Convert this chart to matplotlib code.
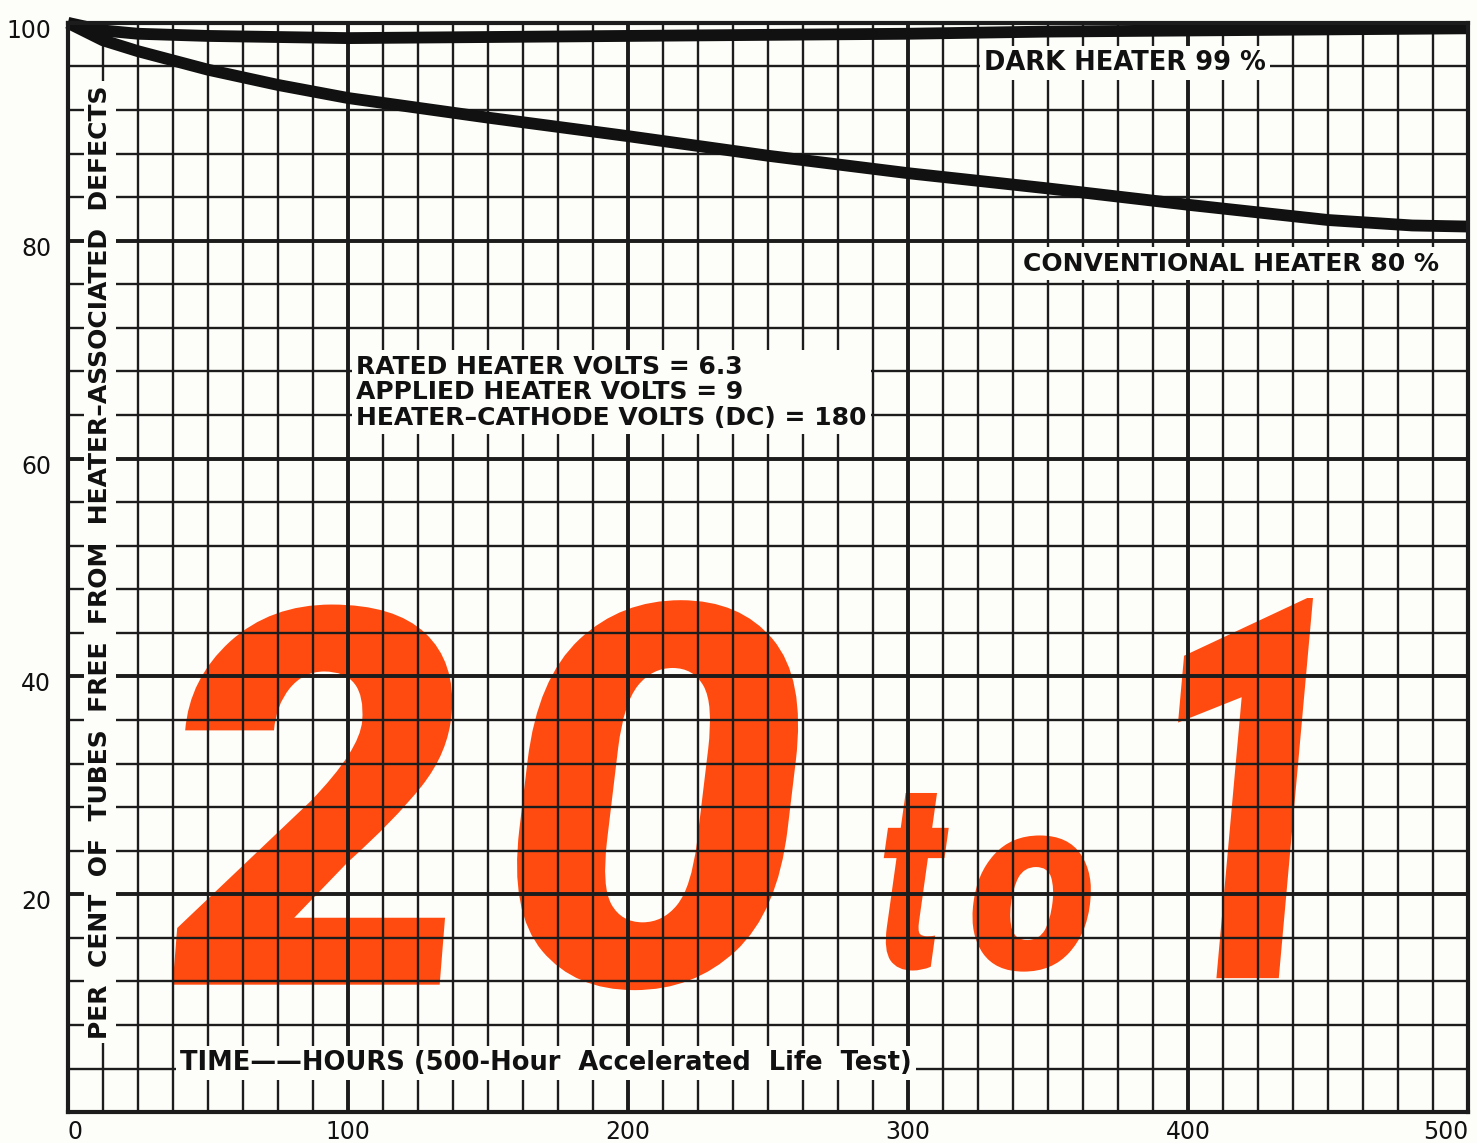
import matplotlib
matplotlib.use('Agg')
import matplotlib.pyplot as plt
import numpy as np
from matplotlib.textpath import TextPath
from matplotlib.patches import PathPatch
from matplotlib.font_manager import FontProperties
from matplotlib.transforms import Affine2D, ScaledTranslation

# curves (hours, per cent)
hours_dark = [0, 12.5, 25, 50, 100, 150, 200, 250, 300, 350, 400, 450, 500]
dark_heater = [100, 99.3, 99.0, 98.8, 98.6, 98.7, 98.8, 98.9, 99.0, 99.2, 99.3, 99.4, 99.5]

hours_conv = [0, 12.5, 25, 50, 75, 100, 125, 150, 200, 250, 300, 350, 400, 450, 480, 500]
conv_heater = [100, 98.4, 97.4, 95.7, 94.3, 93.1, 92.2, 91.3, 89.6, 87.8, 86.2, 84.8, 83.3, 81.9, 81.4, 81.3]

x_ticks = [0, 100, 200, 300, 400, 500]
y_ticks = [20, 40, 60, 80, 100]

ink = '#1c1c1c'
orange = '#ff4b10'
paper = '#fdfdf9'

fig = plt.figure(figsize=(14.77, 11.43), dpi=100, facecolor=paper)
ax = fig.add_axes([0.046, 0.027, 0.948, 0.953])
ax.set_facecolor(paper)
ax.set_xlim(0, 500)
ax.set_ylim(0, 100)

# pixels per hour / per percent, used to keep the italic slant right
px_x = 0.948 * 1477 / 500
px_y = 0.953 * 1143 / 100

# big "20 to 1" glyphs, each fitted to the box it fills on the chart
def glyph(ch, x0, x1, y0, y1, slant):
    fp = FontProperties(family=['Roboto', 'Open Sans', 'DejaVu Sans'], weight='black')
    p = TextPath((0, 0), ch, size=1, prop=fp)
    e = p.get_extents()
    w = (x1 - x0) * px_x
    h = (y1 - y0) * px_y
    t = (Affine2D().translate(-e.x0, -e.y0)
         .scale((w - slant * h) / e.width, h / e.height)
         .skew(np.arctan(slant), 0)
         .scale(1 / px_x, 1 / px_y)
         .translate(x0, y0))
    ax.add_patch(PathPatch(p.transformed(t), facecolor=orange, edgecolor='none', zorder=1))

glyph('2', 34.6, 143.6, 11.7, 46.6, 0.08)
glyph('0', 154.3, 266.8, 11.2, 47.0, 0.12)
glyph('t', 285.7, 316.8, 13.0, 29.3, 0.14)
glyph('o', 320.4, 367.9, 12.9, 25.4, 0.12)
glyph('1', 388.2, 444.6, 12.3, 47.2, 0.09)

# graph paper grid
minor_x = np.arange(0, 501, 12.5)
minor_y = np.arange(0, 101, 4)
ax.vlines(minor_x, 0, 100, color=ink, lw=1.7, zorder=2)
ax.hlines(minor_y, 0, 500, color=ink, lw=1.7, zorder=2)
ax.vlines(x_ticks, 0, 100, color=ink, lw=2.8, zorder=2)
ax.hlines(y_ticks, 0, 500, color=ink, lw=2.8, zorder=2)

ax.plot(hours_dark, dark_heater, color='#111111', lw=8.5, solid_capstyle='butt', zorder=3, clip_on=False)
ax.plot(hours_conv, conv_heater, color='#111111', lw=8.5, solid_capstyle='butt', zorder=3, clip_on=False)

box = dict(facecolor=paper, edgecolor='none', pad=3)
tfont = dict(family='DejaVu Sans', weight='bold', color='#111111', zorder=4)

ax.text(327, 96.3, 'DARK HEATER 99 %', fontsize=18.5, va='center', ha='left', bbox=box, **tfont)
ax.text(341, 77.9, 'CONVENTIONAL HEATER 80 %', fontsize=18, va='center', ha='left', bbox=box, **tfont)
ax.text(103, 66.1, 'RATED HEATER VOLTS = 6.3\nAPPLIED HEATER VOLTS = 9\nHEATER\u2013CATHODE VOLTS (DC) = 180',
        fontsize=18, va='center', ha='left', linespacing=1.08, bbox=box, **tfont)
ax.text(11.4, 50.5, 'PER  CENT  OF  TUBES  FREE  FROM  HEATER\u2013ASSOCIATED  DEFECTS',
        fontsize=18, rotation=90, va='center', ha='center', bbox=box, **tfont)
ax.text(40, 4.5, 'TIME\u2014\u2014HOURS (500-Hour  Accelerated  Life  Test)',
        fontsize=18.5, va='center', ha='left', bbox=box, **tfont)

for s in ax.spines.values():
    s.set_linewidth(3)
    s.set_color(ink)
    s.set_zorder(5)

ax.set_xticks(x_ticks)
ax.set_yticks(y_ticks)
ax.set_xticklabels([str(v) for v in x_ticks], fontsize=17, color='#111111')
ax.set_yticklabels([str(v) for v in y_ticks], fontsize=17, color='#111111')
ax.tick_params(axis='x', length=0, pad=6)
ax.tick_params(axis='y', length=0, pad=12)
ax.get_xticklabels()[-1].set_ha('right')
ax.get_xticklabels()[0].set_ha('left')
for lbl in ax.get_yticklabels():
    lbl.set_transform(lbl.get_transform() + ScaledTranslation(0, -4 / 72, fig.dpi_scale_trans))

fig.savefig('out.png', dpi=100, facecolor=fig.get_facecolor())
